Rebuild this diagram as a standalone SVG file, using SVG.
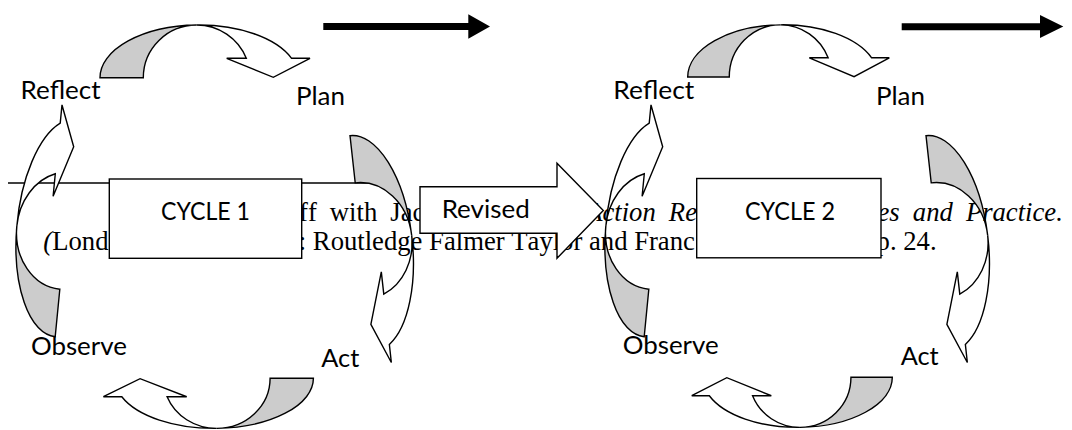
<svg xmlns="http://www.w3.org/2000/svg" width="1072" height="430" viewBox="0 0 1072 430">
<style>
.sh{stroke:#000;stroke-width:1.4;stroke-linejoin:miter;vector-effect:non-scaling-stroke}
.gy{fill:#cccccc}
.wt{fill:#ffffff}
.box{fill:#ffffff;stroke:#000;stroke-width:1.4}
.sep{stroke:#000;stroke-width:1.4;fill:none}
.blk{fill:#000}
.lbl{font-family:Lato,'Open Sans','DejaVu Sans',sans-serif;font-size:25px;fill:#000}
.fn{font-family:'Liberation Serif','Times New Roman',serif;font-size:26.67px;fill:#000;font-kerning:none}
.it{font-style:italic}
</style>
<defs>
<g id="arcTB">
<path class="sh gy" vector-effect="non-scaling-stroke" d="M0,0 A99.3,52.7 0 0 1 96.7,-52.7 A53.3,52.7 0 0 0 43.3,0 Z"/>
<path class="sh wt" vector-effect="non-scaling-stroke" d="M96.7,-52.7 A99.3,52.7 0 0 1 191.6,-19.4 L210,-19.4 L173.3,-0.4 L126.7,-19.4 L146.3,-19.4 A53.3,52.7 0 0 0 96.7,-52.7 Z"/>
</g>
<g id="arcSide">
<path class="sh gy" vector-effect="non-scaling-stroke" d="M0,0 A99.3,52.7 0 0 1 96.7,-52.7 A53.3,52.7 0 0 0 43.3,0 Z"/>
<path class="sh wt" vector-effect="non-scaling-stroke" d="M96.7,-52.7 A99.3,52.7 0 0 1 193.4,-16.9 L210,-16.9 L173.3,0 L126.7,-16.9 L147.2,-16.9 A53.3,52.7 0 0 0 96.7,-52.7 Z"/>
</g>
</defs>

<g id="footnote">
<line class="sep" x1="8" y1="183" x2="370" y2="183"/>
<text class="fn" x="299" y="221" word-spacing="6.43">ff with Jac</text>
<text class="fn it" x="586.2" y="221" word-spacing="6.43">Action Re</text>
<text class="fn it" x="877.5" y="221" word-spacing="6.43">es and Practice.</text>
<text class="fn" x="43.3" y="250"><tspan class="it">(</tspan>Lond</text>
<text class="fn" x="298.8" y="250">: Routledge Falmer Taylor and Franc</text>
<text class="fn" x="876.6" y="250">p. 24.</text>
</g>

<g id="cycle1">
<rect class="box" x="109.3" y="179" width="192.4" height="79.3"/>
<text class="lbl" x="161" y="220" textLength="89" lengthAdjust="spacingAndGlyphs">CYCLE 1</text>
</g>
<g id="cycle2">
<rect class="box" x="696.7" y="178.5" width="184.3" height="79.3"/>
<text class="lbl" x="745" y="220" textLength="90" lengthAdjust="spacingAndGlyphs">CYCLE 2</text>
</g>
<g id="revised">
<path class="box" d="M420,186.7 H557 V163.3 L603.3,210.5 L557,258.3 V233.3 H420 Z"/>
<text class="lbl" x="441.7" y="218.3" textLength="88" lengthAdjust="spacingAndGlyphs">Revised</text>
</g>

<g id="connectors">
<use href="#arcTB" transform="matrix(1 0 0 1 100 77.7)"/>
<use href="#arcSide" transform="matrix(0.1205 1.0883 -0.9492 0.1051 350 135.7)"/>
<use href="#arcTB" transform="matrix(-1 0 0 -0.95 313.4 378.3)"/>
<use href="#arcSide" transform="matrix(0.1067 -1.0964 0.9236 0.0899 55.2 336.7)"/>
<use href="#arcTB" transform="matrix(0.96 0 0 0.99 687.7 77)"/>
<use href="#arcSide" transform="matrix(0.1205 1.0883 -0.9492 0.1051 926 135.7)"/>
<use href="#arcTB" transform="matrix(-0.955 0 0 -0.95 892.3 377.3)"/>
<use href="#arcSide" transform="matrix(0.1067 -1.0964 0.9236 0.0899 644.2 336.7)"/>
<path class="blk" d="M323.3,23 H468.3 V14.3 L490,26.5 L468.3,38.7 V30 H323.3 Z"/>
<path class="blk" d="M901.7,23.3 H1040 V15 L1063.3,26.5 L1040,38 V30.3 H901.7 Z"/>
</g>

<g id="reflect1"><text class="lbl" x="20.6" y="99.3" textLength="80" lengthAdjust="spacingAndGlyphs">Reflect</text></g>
<g id="plan1"><text class="lbl" x="296" y="105" textLength="49" lengthAdjust="spacingAndGlyphs">Plan</text></g>
<g id="act1"><text class="lbl" x="321.3" y="366.7" textLength="38" lengthAdjust="spacingAndGlyphs">Act</text></g>
<g id="observe1"><text class="lbl" x="30.9" y="355" textLength="96" lengthAdjust="spacingAndGlyphs">Observe</text></g>
<g id="reflect2"><text class="lbl" x="613.3" y="99.3" textLength="81" lengthAdjust="spacingAndGlyphs">Reflect</text></g>
<g id="plan2"><text class="lbl" x="876" y="105" textLength="49" lengthAdjust="spacingAndGlyphs">Plan</text></g>
<g id="act2"><text class="lbl" x="900.7" y="365" textLength="38" lengthAdjust="spacingAndGlyphs">Act</text></g>
<g id="observe2"><text class="lbl" x="622.7" y="353.5" textLength="96" lengthAdjust="spacingAndGlyphs">Observe</text></g>
</svg>
